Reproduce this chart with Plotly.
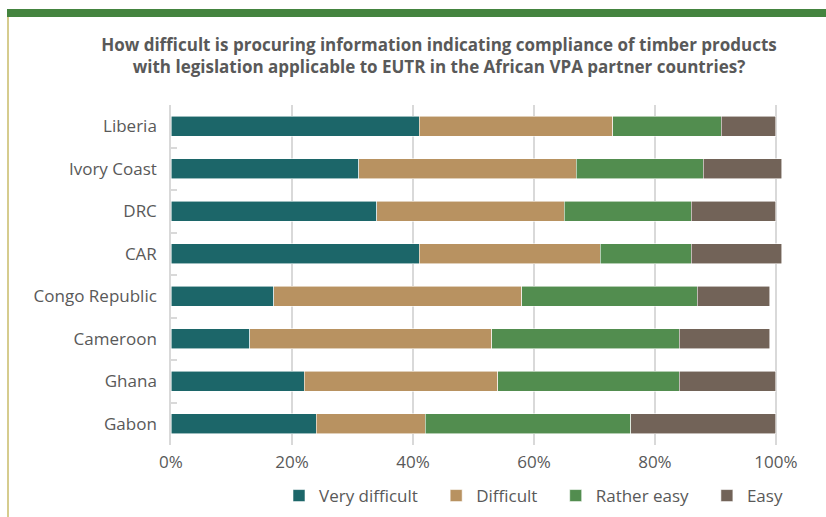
import plotly.graph_objects as go

countries = ["Liberia", "Ivory Coast", "DRC", "CAR", "Congo Republic", "Cameroon", "Ghana", "Gabon"]
very_difficult = [41, 31, 34, 41, 17, 13, 22, 24]
difficult = [32, 36, 31, 30, 41, 40, 32, 18]
rather_easy = [18, 21, 21, 15, 29, 31, 30, 34]
easy = [9, 13, 14, 15, 12, 15, 16, 24]
x_ticks = [0, 20, 40, 60, 80, 100]
x_tick_labels = ["0%", "20%", "40%", "60%", "80%", "100%"]

series = [
    ("Very difficult", very_difficult, "#1c6669"),
    ("Difficult", difficult, "#b89261"),
    ("Rather easy", rather_easy, "#528d4f"),
    ("Easy", easy, "#726358"),
]

FONT = "Open Sans"
TXT = "#595959"
FS = 17
W, H = 826, 517
ML, MR, MT, MB = 171, 38, 105, 72
PW, PH = W - ML - MR, H - MT - MB
PAD = "\u00a0\u00a0\u00a0"

fig = go.Figure()
for i, (name, vals, col) in enumerate(series):
    fig.add_trace(go.Bar(
        y=countries, x=vals, name=name + (PAD if i < len(series) - 1 else ""), orientation="h",
        marker=dict(color=col, line=dict(color="rgba(255,255,255,0.7)", width=0.8)),
    ))

fig.update_layout(
    barmode="stack",
    bargap=0.52,
    width=W, height=H,
    paper_bgcolor="white", plot_bgcolor="white",
    margin=dict(l=ML, r=MR, t=MT, b=MB, autoexpand=False),
    font=dict(family=FONT, size=FS, color=TXT),
    title=dict(
        text="<b>How difficult is procuring information indicating compliance of timber products<br>with legislation applicable to EUTR in the African VPA partner countries?</b>",
        x=439 / W, xanchor="center", xref="container", y=1 - 51 / H, yanchor="top", yref="container",
        font=dict(family=FONT, size=FS, color=TXT),
    ),
    legend=dict(
        orientation="h", xref="container", yref="container",
        x=279 / W, xanchor="left", y=1 - 478 / H, yanchor="top",
        font=dict(family=FONT, size=FS, color=TXT),
        itemwidth=30, traceorder="normal",
    ),
    xaxis=dict(
        range=[0, 102], tickvals=x_ticks, ticktext=x_tick_labels, automargin=False,
        showgrid=True, gridcolor="#d9d9d9", gridwidth=1.5,
        zeroline=False, showline=False, ticks="",
        tickfont=dict(family=FONT, size=FS, color=TXT),
        ticklabelstandoff=5,
    ),
    yaxis=dict(
        autorange="reversed", showline=True, linecolor="#d9d9d9", linewidth=1.5, automargin=False,
        ticks="inside", tickson="boundaries", ticklen=6, tickcolor="#d9d9d9",
        tickwidth=1.5, showgrid=False,
        tickfont=dict(family=FONT, size=FS, color=TXT),
        ticklabelstandoff=9,
    ),
    shapes=[
        dict(type="rect", xref="paper", yref="paper", x0=(7 - ML) / PW, x1=(W - ML) / PW,
             y0=(H - MB - 17) / PH, y1=(H - MB - 9) / PH,
             fillcolor="#44843f", line=dict(width=0), layer="above"),
        dict(type="line", xref="paper", yref="paper", x0=(8 - ML) / PW, x1=(8 - ML) / PW,
             y0=-MB / PH, y1=(H - MB - 17) / PH,
             line=dict(color="#d6cc8e", width=2)),
    ],
)

fig.write_html("out.html", config={"displayModeBar": False},
               post_script="document.body.style.margin='0';")
